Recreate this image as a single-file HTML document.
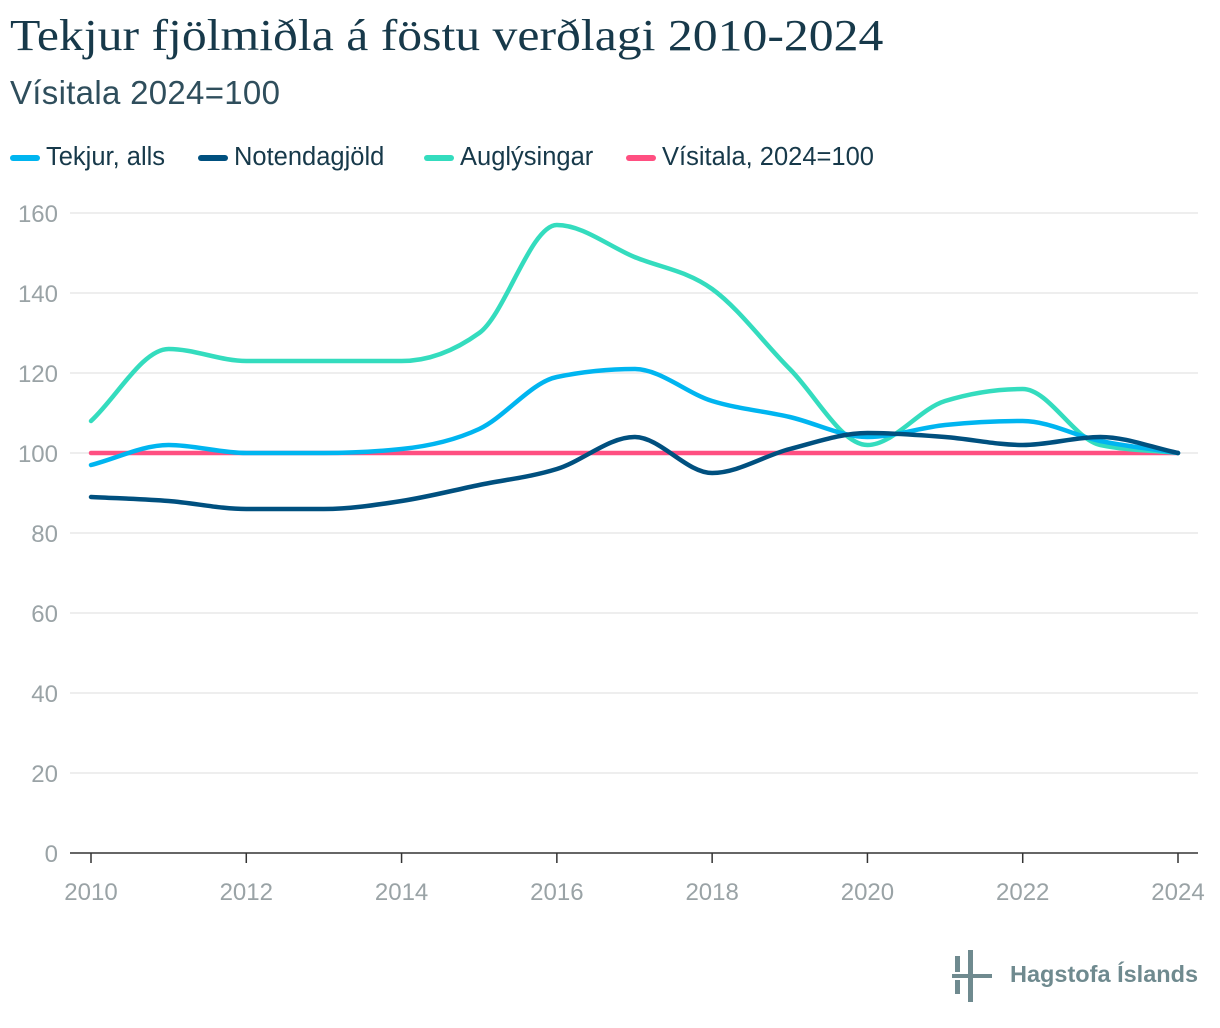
<!DOCTYPE html>
<html><head><meta charset="utf-8"><style>
body{margin:0;background:#fff;width:1220px;height:1028px;overflow:hidden;font-family:"Liberation Sans",sans-serif;}
#title{position:absolute;left:10px;top:10px;font-family:"Liberation Serif",serif;font-size:44px;color:#17394a;margin:0;font-weight:normal;transform:scaleX(1.13);transform-origin:0 0;white-space:nowrap;}
#sub{position:absolute;left:10px;top:74px;font-size:33px;color:#2f4e5c;letter-spacing:0.3px;}
.leg{position:absolute;top:143px;font-size:25.5px;color:#17394a;display:flex;align-items:center;white-space:nowrap;}
.sw{display:inline-block;width:30px;height:6px;border-radius:3px;margin-right:6px;}
</style></head><body>
<h1 id="title">Tekjur fjölmiðla á föstu verðlagi 2010-2024</h1>
<div id="sub">Vísitala 2024=100</div>
<div class="leg" style="left:10px"><span class="sw" style="background:#00b5f0"></span>Tekjur, alls</div>
<div class="leg" style="left:198px"><span class="sw" style="background:#00507f"></span>Notendagjöld</div>
<div class="leg" style="left:424px"><span class="sw" style="background:#34dcbe"></span>Auglýsingar</div>
<div class="leg" style="left:626px"><span class="sw" style="background:#ff4f81"></span>Vísitala, 2024=100</div>
<svg id="chart" width="1220" height="1028" style="position:absolute;left:0;top:0"></svg>
<div style="position:absolute;left:952px;top:950px">
<svg width="50" height="52"><rect x="3" y="6" width="5" height="16" fill="#6f8a8f"/><rect x="3" y="30" width="5" height="14" fill="#6f8a8f"/><rect x="16" y="0" width="5" height="52" fill="#6f8a8f"/><rect x="0" y="24" width="40" height="4" fill="#6f8a8f"/></svg></div>
<div style="position:absolute;left:1010px;top:961px;font-size:23.5px;font-weight:bold;color:#6f8a8f;white-space:nowrap">Hagstofa Íslands</div>
<script>
const years=[2010,2011,2012,2013,2014,2015,2016,2017,2018,2019,2020,2021,2022,2023,2024];
const tekjur=[97,102,100,100,101,106,119,121,113,109,104,107,108,103,100];
const notendagjold=[89,88,86,86,88,92,96,104,95,101,105,104,102,104,100];
const auglysingar=[108,126,123,123,123,130,157,149,141,121,102,113,116,102,100];
const visitala=[100,100,100,100,100,100,100,100,100,100,100,100,100,100,100];
const yTicks=[0,20,40,60,80,100,120,140,160];
const xTicks=[2010,2012,2014,2016,2018,2020,2022,2024];
const NS="http://www.w3.org/2000/svg";
const svg=document.getElementById('chart');
const X=v=>91+(v-2010)*(1178-91)/14;
const Y=v=>853-v*4;
function mk(t,a){const e=document.createElementNS(NS,t);for(const k in a)e.setAttribute(k,a[k]);svg.appendChild(e);return e;}
yTicks.forEach(t=>{
 const g=mk('line',{x1:70,x2:1198,y1:Y(t),y2:Y(t),stroke:t===0?'#333':'#ddd','stroke-width':t===0?1.5:1});
 
 
 const l=mk('text',{x:58,y:Y(t)+9,'text-anchor':'end','font-size':24,fill:'#9aa3a6','font-family':'Liberation Sans'});
 l.textContent=t;
 
 
});
xTicks.forEach(t=>{
 const k=mk('line',{x1:X(t),x2:X(t),y1:853,y2:863,stroke:'#333','stroke-width':1.5});
 
 
 const l=mk('text',{x:X(t),y:900,'text-anchor':'middle','font-size':24,fill:'#9aa3a6','font-family':'Liberation Sans'});
 l.textContent=t;
 
 
});
function monotone(xs,ys){
 const n=xs.length,d=[],m=[];
 for(let i=0;i<n-1;i++)d.push((ys[i+1]-ys[i])/(xs[i+1]-xs[i]));
 m[0]=d[0];m[n-1]=d[n-2];
 for(let i=1;i<n-1;i++){if(d[i-1]*d[i]<=0)m[i]=0;else{const h0=xs[i]-xs[i-1],h1=xs[i+1]-xs[i];const p=(d[i-1]*h1+d[i]*h0)/(h0+h1);m[i]=Math.sign(p)*Math.min(Math.abs(p),2*Math.min(Math.abs(d[i-1]),Math.abs(d[i])));}}
 let s='M'+xs[0]+','+ys[0];
 for(let i=0;i<n-1;i++){const h=(xs[i+1]-xs[i])/3;s+=` C${xs[i]+h},${ys[i]+m[i]*h} ${xs[i+1]-h},${ys[i+1]-m[i+1]*h} ${xs[i+1]},${ys[i+1]}`;}
 return s;
}
function series(vals,color,name){
 const p=mk('path',{d:monotone(years.map(X),vals.map(Y)),fill:'none',stroke:color,'stroke-width':4.5,'stroke-linecap':'round'});
 
 
}
series(visitala,'#ff4f81','line-visitala');
series(auglysingar,'#34dcbe','line-auglysingar');
series(tekjur,'#00b5f0','line-tekjur');
series(notendagjold,'#00507f','line-notendagjold');
</script>
</body></html>
